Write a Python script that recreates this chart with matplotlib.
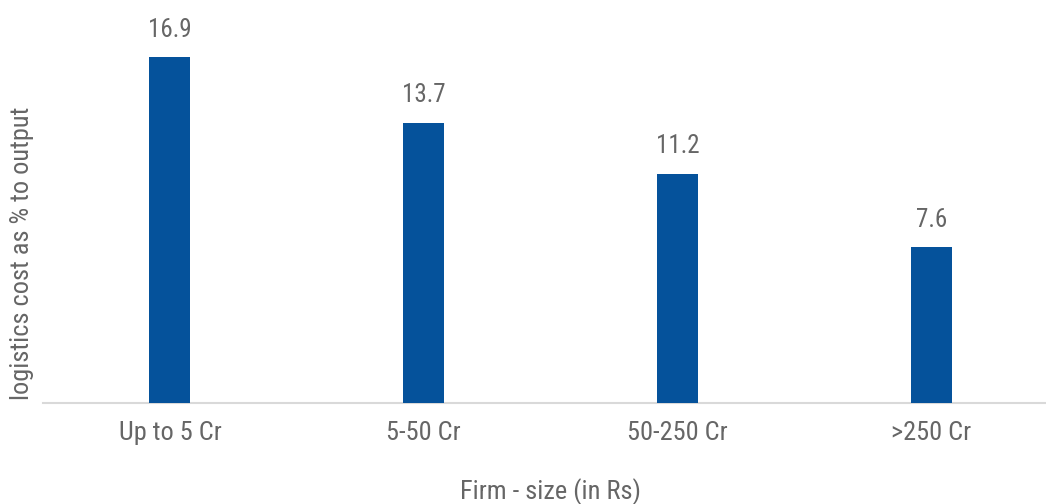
import matplotlib
matplotlib.use("Agg")
import matplotlib.pyplot as plt

categories = ["Up to 5 Cr", "5-50 Cr", "50-250 Cr", ">250 Cr"]
values = [16.9, 13.7, 11.2, 7.6]

BAR_COLOR = "#05529B"
TEXT_COLOR = "#666666"

plt.rcParams["font.family"] = ["Roboto Condensed", "Roboto", "DejaVu Sans"]


def main():
    fig = plt.figure(figsize=(10.46, 5.04), dpi=100)
    # axes spans a bit past the right edge, the plot area is cropped there
    ax = fig.add_axes([43 / 1046, 101 / 504, 1015 / 1046, (403 - 34.5) / 504])

    x = range(len(categories))
    bars = ax.bar(x, values, width=0.162, color=BAR_COLOR, zorder=3)
    for b, v in zip(bars, values):
        ax.annotate(f"{v:.1f}", (b.get_x() + b.get_width() / 2, v),
                    xytext=(0, 11), textcoords="offset points",
                    ha="center", va="bottom", fontsize=18, color=TEXT_COLOR,
                    annotation_clip=False)

    ax.set_xlim(-0.5, len(categories) - 0.5)
    ax.set_ylim(0, 18)
    ax.set_xticks(list(x))
    ax.set_xticklabels(categories, fontsize=19, color=TEXT_COLOR)
    ax.tick_params(axis="x", length=0, pad=13)
    ax.set_yticks([])

    for s in ["top", "right", "left"]:
        ax.spines[s].set_visible(False)
    ax.spines["bottom"].set_color("#d9d9d9")
    ax.spines["bottom"].set_linewidth(1.5)

    fig.text(551 / 1046, 1 - 492 / 504, "Firm - size (in Rs)", ha="center", va="center",
             fontsize=19, color=TEXT_COLOR)
    fig.text(22 / 1046, 1 - 253 / 504, "logistics cost as % to output", ha="center", va="center",
             rotation=90, fontsize=19, color=TEXT_COLOR)

    fig.savefig("out.png", dpi=100)


if __name__ == "__main__":
    main()
